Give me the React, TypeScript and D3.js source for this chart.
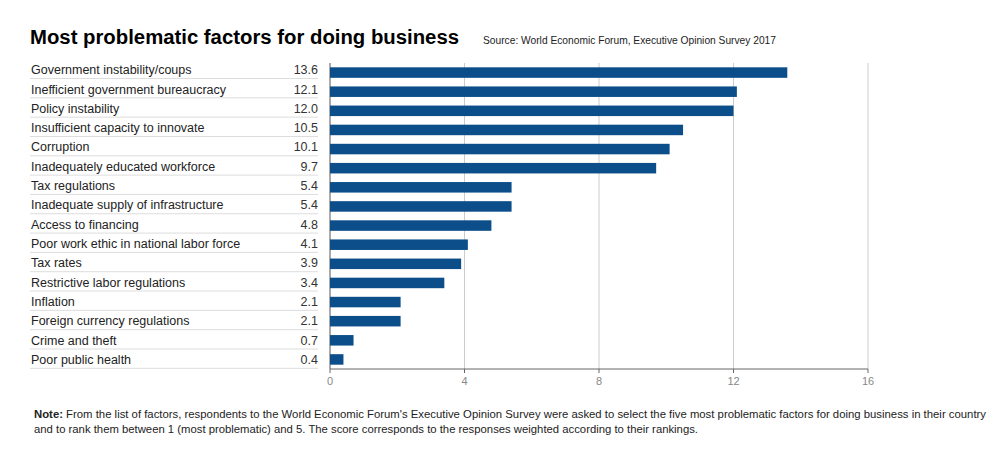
import React from "react";
import * as d3 from "d3";

const categories = [
  "Government instability/coups",
  "Inefficient government bureaucracy",
  "Policy instability",
  "Insufficient capacity to innovate",
  "Corruption",
  "Inadequately educated workforce",
  "Tax regulations",
  "Inadequate supply of infrastructure",
  "Access to financing",
  "Poor work ethic in national labor force",
  "Tax rates",
  "Restrictive labor regulations",
  "Inflation",
  "Foreign currency regulations",
  "Crime and theft",
  "Poor public health",
];
const values = [13.6, 12.1, 12.0, 10.5, 10.1, 9.7, 5.4, 5.4, 4.8, 4.1, 3.9, 3.4, 2.1, 2.1, 0.7, 0.4];
const xTicks = [0, 4, 8, 12, 16];

const title = "Most problematic factors for doing business";
const source = "Source: World Economic Forum, Executive Opinion Survey 2017";
const noteLine1 =
  " From the list of factors, respondents to the World Economic Forum's Executive Opinion Survey were asked to select the five most problematic factors for doing business in their country";
const noteLine2 =
  "and to rank them between 1 (most problematic) and 5. The score corresponds to the responses weighted according to their rankings.";

export default function App() {
  const W = 1001;
  const H = 455;
  const font = "'Liberation Sans', Arial, Helvetica, sans-serif";
  const x = d3.scaleLinear().domain([0, 16]).range([330, 868]);
  const yBar = d3.scaleBand<string>().domain(categories).range([63, 369]).paddingInner(0.45).paddingOuter(0.225);
  const rowTop = 59.2;
  const rowStep = 19.32;
  const barColor = "#0c4e89";

  return (
    <svg width={W} height={H} style={{ position: "absolute", left: 0, top: 0, background: "#fff" }} fontFamily={font}>
      <text x={30} y={44} fontSize={20.3} fontWeight="bold" fill="#000" textLength={429} lengthAdjust="spacingAndGlyphs">{title}</text>
      <text x={483} y={44} fontSize={10.2} fill="#222" textLength={293} lengthAdjust="spacingAndGlyphs">{source}</text>

      {xTicks.map((t) => (
        <line key={"g" + t} x1={x(t)} x2={x(t)} y1={63} y2={369} stroke={t === 0 ? "#555" : "#ccc"} strokeWidth={1} />
      ))}
      {categories.map((c, i) => (
        <g key={c}>
          <text x={31} y={rowTop + rowStep * i + 15} fontSize={12.5} fill="#222">{c}</text>
          <text x={318} y={rowTop + rowStep * i + 15} fontSize={12.5} fill="#333" textAnchor="end">
            {values[i].toFixed(1)}
          </text>
          <line x1={30} x2={318} y1={rowTop + rowStep * (i + 1)} y2={rowTop + rowStep * (i + 1)} stroke="#ddd" strokeWidth={1} />
          <rect x={x(0)} y={yBar(c)} width={x(values[i]) - x(0)} height={yBar.bandwidth()} fill={barColor} />
        </g>
      ))}
      <line x1={330} x2={868} y1={369} y2={369} stroke="#666" strokeWidth={1} />
      {xTicks.map((t) => (
        <g key={"t" + t}>
          <line x1={x(t)} x2={x(t)} y1={369} y2={373} stroke="#666" />
          <text x={x(t)} y={385} fontSize={11} fill="#888" textAnchor="middle">{t}</text>
        </g>
      ))}

      <text x={34} y={418} fontSize={10.5} fill="#222" textLength={952} lengthAdjust="spacingAndGlyphs">
        <tspan fontWeight="bold">Note:</tspan>
        {noteLine1}
      </text>
      <text x={34} y={433} fontSize={10.5} fill="#222" textLength={664} lengthAdjust="spacingAndGlyphs">
        {noteLine2}
      </text>
    </svg>
  );
}
